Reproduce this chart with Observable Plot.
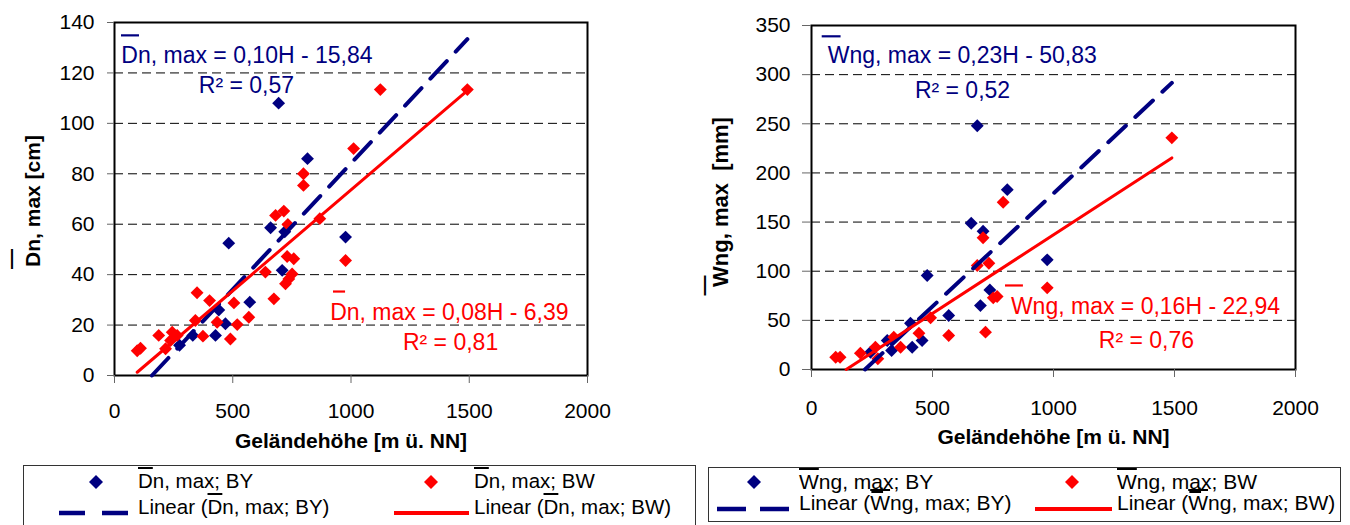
<!DOCTYPE html>
<html><head><meta charset="utf-8">
<script src="https://cdn.jsdelivr.net/npm/d3@7"></script>
<script src="https://cdn.jsdelivr.net/npm/@observablehq/plot@0.6"></script>
<style>
body{margin:0;background:#fff;font-family:"Liberation Sans",Arial,sans-serif;}
#wrap{position:relative;width:1350px;height:525px;overflow:hidden;background:#fff;}
.chart{position:absolute;top:0;}
.legend{position:absolute;border:1px solid #333;box-sizing:border-box;}
.li{position:absolute;white-space:nowrap;line-height:1;color:#000;}
.ov{text-decoration:overline;text-decoration-thickness:1.5px;}
.mk{position:absolute;}
</style></head><body><div id="wrap"></div>
<script>
// ---------- data ----------
const elevTicks = [0, 500, 1000, 1500, 2000];
const dnTicks = [0, 20, 40, 60, 80, 100, 120, 140];
const wngTicks = [0, 50, 100, 150, 200, 250, 300, 350];

// Dn,max (cm) vs elevation (m) — BY
const dnBY_H = [275, 331, 427, 441, 469, 483, 572, 660, 694, 709, 720, 816, 977];
const dnBY_V = [12, 15.9, 15.9, 26, 20.5, 52.5, 29.1, 58.6, 108, 41.7, 57, 86, 54.9];
// Dn,max — BW
const dnBW_H = [96, 110, 187, 216, 237, 244, 265, 342, 349, 374, 402, 434, 490, 505, 519, 568, 638, 674, 681, 716, 723, 730, 733, 737, 751, 758, 799, 799, 868, 977, 1011, 1124, 1492];
const dnBW_V = [9.8, 10.8, 15.9, 10.6, 13.9, 17.2, 15.9, 21.8, 32.8, 15.6, 29.7, 21.1, 14.5, 28.8, 20.2, 23.1, 41, 30.4, 63.5, 65.2, 36.4, 47.2, 59.9, 38.3, 40.3, 46.3, 75.4, 80, 62.2, 45.6, 90, 113.4, 113.4];
const dnSlope = [0.10, 0.08];
const dnIntercept = [-15.84, -6.39];
const dnR2 = [0.57, 0.81];

// Wng,max (mm) vs elevation (m) — BY
const wngBY_H = [244, 313, 331, 409, 416, 457, 478, 567, 660, 685, 698, 709, 737, 809, 974];
const wngBY_V = [17.6, 29.5, 19.3, 47.1, 22.7, 29.5, 95.6, 55, 148.8, 248, 65, 140.7, 81, 183, 111.6];
// Wng,max — BW
const wngBW_H = [100, 118, 202, 264, 274, 340, 368, 444, 492, 567, 685, 709, 719, 733, 751, 767, 792, 974, 1489];
const wngBW_V = [12.5, 12.5, 16.6, 22.7, 11, 32.9, 22.7, 37, 52.6, 34.6, 105.8, 134, 38, 108.1, 72.9, 74.3, 170.2, 83.1, 235.7];
const wngSlope = [0.23, 0.16];
const wngIntercept = [-50.83, -22.94];
const wngR2 = [0.52, 0.76];

const xTitle = "Geländehöhe [m ü. NN]";

// ---------- helpers ----------
const NAVY = "#000080", RED = "#ff0000";
const FONT = '"Liberation Sans", Arial, sans-serif';
const wrap = document.getElementById("wrap");
const series = (Hs, Vs) => Hs.map((H, i) => ({H, v: Vs[i]}));
const fmt = x => x.toFixed(2).replace(".", ",");
function fitLine(a, b, allH) {
  const lo = Math.max(d3.min(allH), -b / a), hi = d3.max(allH);
  return [{H: lo, v: a * lo + b}, {H: hi, v: a * hi + b}];
}

function makeChart(o) {
  const by = series(o.byH, o.byV), bw = series(o.bwH, o.bwV);
  const allH = o.byH.concat(o.bwH);
  const lBY = fitLine(o.slope[0], o.icpt[0], allH);
  const lBW = fitLine(o.slope[1], o.icpt[1], allH);
  const t = (d, opts) => Plot.text([d], {x: "H", y: "v", text: "t", ...opts});
  const bar = (b, color) => Plot.ruleY([{v: b[1], x1: b[0], x2: b[0] + b[2]}], {y: "v", x1: "x1", x2: "x2", stroke: color, strokeWidth: 2.2});
  const A = o.ann;
  const svg = Plot.plot({
    width: o.width, height: o.height,
    marginLeft: o.ml, marginRight: o.mr, marginTop: o.mt, marginBottom: o.mb,
    style: {fontFamily: FONT, fontSize: "21px", color: "#000", background: "transparent", overflow: "visible"},
    x: {domain: [0, 2000]},
    y: {domain: [0, o.yTicks[o.yTicks.length - 1]]},
    marks: [
      Plot.gridY(o.yTicks.slice(1, -1), {stroke: "#000", strokeOpacity: 1, strokeWidth: 1, strokeDasharray: "9,5"}),
      Plot.frame({stroke: "#000", strokeWidth: 2}),
      Plot.axisY(o.yTicks, {tickSize: o.yTickSize, tickPadding: o.yPad, stroke: "#666", fontSize: 21, label: null, tickFormat: d => String(d)}),
      Plot.axisX(elevTicks, {tickSize: 8, tickPadding: o.xPad, stroke: "#666", fontSize: 21, label: null, tickFormat: d => String(d)}),
      Plot.dot(by, {x: "H", y: "v", symbol: "diamond2", r: 5.8, fill: NAVY, stroke: "none"}),
      Plot.dot(bw, {x: "H", y: "v", symbol: "diamond2", r: 5.8, fill: RED, stroke: "none"}),
      Plot.line(lBY, {x: "H", y: "v", stroke: NAVY, strokeWidth: 4, strokeDasharray: "24,13"}),
      Plot.line(lBW, {x: "H", y: "v", stroke: RED, strokeWidth: 3}),
      // equations
      t({H: A.eqBY[0], v: A.eqBY[1], t: `${o.name}, max = ${fmt(o.slope[0])}H - ${fmt(-o.icpt[0])}`}, {fill: NAVY, fontSize: 23, textAnchor: "middle"}),
      t({H: A.r2BY[0], v: A.r2BY[1], t: `R² = ${fmt(o.r2[0])}`}, {fill: NAVY, fontSize: 23, textAnchor: "middle"}),
      bar(A.barBY, NAVY),
      t({H: A.eqBW[0], v: A.eqBW[1], t: `${o.name}, max = ${fmt(o.slope[1])}H - ${fmt(-o.icpt[1])}`}, {fill: RED, fontSize: 23, textAnchor: "middle"}),
      t({H: A.r2BW[0], v: A.r2BW[1], t: `R² = ${fmt(o.r2[1])}`}, {fill: RED, fontSize: 23, textAnchor: "middle"}),
      bar(A.barBW, RED),
      // axis titles
      Plot.text([xTitle], {text: d => d, frameAnchor: "bottom", dy: o.xTitleDy, lineAnchor: "middle", fontWeight: "bold", fontSize: 21, fill: "#000"}),
      Plot.text([o.ylabel], {text: d => d, frameAnchor: "left", rotate: -90, textAnchor: "middle", dx: o.yLabDx, dy: o.yLabDy, fontWeight: "bold", fontSize: o.yLabSize, fill: "#000"}),
      Plot.text(["—"], {text: d => d, frameAnchor: "left", rotate: -90, textAnchor: "middle", dx: o.yBarDx, dy: o.yBarDy, fontWeight: "bold", fontSize: 20, fill: "#000"})
    ]
  });
  svg.classList.add("chart");
  svg.style.left = o.left + "px";
  wrap.appendChild(svg);
}

makeChart({
  left: 0, width: 640, height: 460, ml: 114, mr: 53, mt: 22, mb: 85,
  yTicks: dnTicks, yTickSize: 7, yPad: 13, xPad: 20, xTitleDy: 66,
  byH: dnBY_H, byV: dnBY_V, bwH: dnBW_H, bwV: dnBW_V,
  slope: dnSlope, icpt: dnIntercept, r2: dnR2, name: "Dn",
  ylabel: "Dn, max [cm]", yLabSize: 21, yLabDx: -81, yLabDy: 2, yBarDx: -104, yBarDy: 60,
  // [H, value] anchors; bars: [H start, value, H length]
  ann: {eqBY: [560, 126.9], r2BY: [558, 115], barBY: [29.6, 134.9, 76],
        eqBW: [1416, 24.8], r2BW: [1421, 13.1], barBW: [926, 33.3, 51]}
});
makeChart({
  left: 690, width: 660, height: 460, ml: 121, mr: 55, mt: 25, mb: 91,
  yTicks: wngTicks, yTickSize: 9, yPad: 12, xPad: 23, xTitleDy: 68,
  byH: wngBY_H, byV: wngBY_V, bwH: wngBW_H, bwV: wngBW_V,
  slope: wngSlope, icpt: wngIntercept, r2: wngR2, name: "Wng",
  ylabel: "Wng, max\u00a0 [mm]", yLabSize: 22, yLabDx: -91, yLabDy: 4.5, yBarDx: -108, yBarDy: 88,
  ann: {eqBY: [623, 319.4], r2BY: [624, 283.5], barBY: [44.2, 339, 78],
        eqBW: [1380, 64.1], r2BW: [1384, 29.5], barBW: [801.7, 85.5, 74]}
});

// ---------- legends ----------
function add(html, cls, style) {
  const el = document.createElement("div");
  el.className = cls; el.innerHTML = html;
  Object.assign(el.style, style);
  wrap.appendChild(el);
  return el;
}
function box(l, t, w, h) { add("", "legend", {left: l + "px", top: t + "px", width: w + "px", height: h + "px"}); }
function diamond(cx, cy, color) {
  add(`<svg width="14" height="14"><path d="M7,0L14,7L7,14L0,7Z" fill="${color}"/></svg>`, "mk",
      {left: (cx - 7) + "px", top: (cy - 7) + "px", width: "14px", height: "14px"});
}
function lineKey(x0, x1, cy, color, w, dash) {
  const L = x1 - x0;
  add(`<svg width="${L}" height="8"><line x1="0" y1="4" x2="${L}" y2="4" stroke="${color}" stroke-width="${w}" ${dash ? `stroke-dasharray="${dash}"` : ""}/></svg>`,
      "mk", {left: x0 + "px", top: (cy - 4) + "px", width: L + "px", height: "8px"});
}
function label(x, cy, html, fs) {
  add(html, "li", {left: x + "px", top: (cy - 0.49 * fs) + "px", fontSize: fs + "px"});
}
const ov = s => `<span class="ov">${s}</span>`;

// left legend
box(23, 465, 673, 64);
diamond(96, 481.5, NAVY);
label(138, 481.5, `${ov("D")}n, max; BY`, 20.5);
diamond(431, 481.5, RED);
label(474, 481.5, `${ov("D")}n, max; BW`, 20.5);
lineKey(59, 129, 507, NAVY, 4.5, "26,17");
label(138, 507, `Linear (${ov("D")}n, max; BY)`, 20.5);
lineKey(394, 469, 507, RED, 4, null);
label(474, 507, `Linear (${ov("D")}n, max; BW)`, 20.5);

// right legend
box(708, 467, 633, 55);
diamond(754, 481.5, NAVY);
label(799, 481.5, `${ov("W")}ng, m<u>a</u>x; BY`, 21);
diamond(1072, 481.5, RED);
label(1117, 481.5, `${ov("W")}ng, m<u>a</u>x; BW`, 21);
lineKey(717, 790, 502.5, NAVY, 4.5, "29,14");
label(799, 502.5, `Linear (${ov("W")}ng, max; BY)`, 21);
lineKey(1035, 1112, 502.5, RED, 4, null);
label(1117, 502.5, `Linear (${ov("W")}ng, max; BW)`, 21);
</script></body></html>
